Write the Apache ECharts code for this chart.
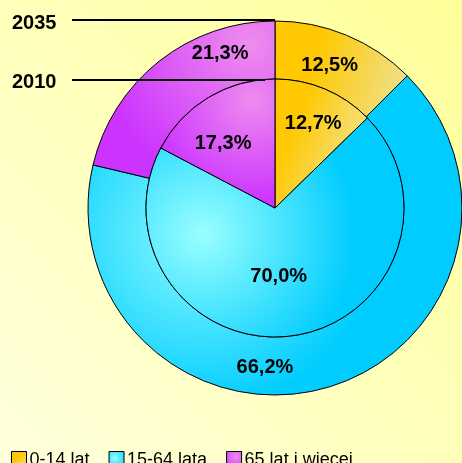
<!DOCTYPE html>
<html>
<head>
<meta charset="utf-8">
<script src="https://cdn.jsdelivr.net/npm/echarts@6/dist/echarts.min.js"></script>
<style>
  html, body { margin: 0; padding: 0; }
  #chart {
    width: 462px; height: 463px;
    background: linear-gradient(to top right, #FFFFDD, #FFFF99);
  }
</style>
</head>
<body>
<div id="chart"></div>
<script>
// dane
const categories = ["0-14 lat", "15-64 lata", "65 lat i wiecej"];
const values2010 = [12.7, 70.0, 17.3];
const values2035 = [12.5, 66.2, 21.3];
const yearLabels = ["2035", "2010"];

// przesunięcia etykiet (px) względem pozycji 'inside'
const innerOffsets = [[12, -22], [-6, 2], [-17, -7]];
const outerOffsets = [[-7, 6], [-54, 5], [45, -28]];

const FONT = 'Arial, "Liberation Sans", sans-serif';
const cx = 275, cy = 208, rIn = 129, rOut = 187;

function lin(c1, c2, x2, y2) {
  return new echarts.graphic.LinearGradient(0, 0, x2, y2, [
    { offset: 0, color: c1 }, { offset: 0.35, color: c1 }, { offset: 1, color: c2 },
  ]);
}
function rad(x, y, r, c1, c2) {
  return new echarts.graphic.RadialGradient(x, y, r, [
    { offset: 0, color: c1 }, { offset: 1, color: c2 },
  ]);
}

const innerColors = [
  lin("#FFC800", "#F5E07A", 1, 0.3),
  rad(0.22, 0.53, 0.7, "#99FFFF", "#00CCFF"),
  rad(0.8, 0.16, 0.9, "#EE8CEE", "#CC33FF"),
];
const outerColors = [
  lin("#FFC800", "#F0DF85", 1, 0.4),
  rad(0.3, 0.5, 0.55, "#8CFBFF", "#00CCFF"),
  rad(0.86, 0.15, 0.95, "#EE8CEE", "#CC33FF"),
];
const legendColors = [
  lin("#FFC800", "#F5E07A", 1, 1),
  rad(0.4, 0.4, 0.8, "#99FFFF", "#00CCFF"),
  rad(0.6, 0.3, 0.9, "#EE8CEE", "#CC33FF"),
];

const fmt = p => p.value.toFixed(1).replace(".", ",") + "%";

function buildData(values, colors, offsets) {
  return categories.map((name, i) => ({
    name,
    value: values[i],
    itemStyle: { color: colors[i] },
    label: { offset: offsets[i] },
  }));
}

const commonSeries = {
  type: "pie",
  center: [cx, cy],
  startAngle: 90,
  clockwise: true,
  avoidLabelOverlap: false,
  silent: true,
  itemStyle: { borderColor: "#000", borderWidth: 1 },
  label: {
    show: true, position: "inside", formatter: fmt,
    color: "#000", fontFamily: FONT, fontWeight: "bold", fontSize: 20,
  },
  labelLine: { show: false },
  emphasis: { disabled: true },
};

const chart = echarts.init(document.getElementById("chart"));
chart.setOption({
  animation: false,
  legend: {
    left: 6, top: 446,
    itemWidth: 15, itemHeight: 17, itemGap: 19,
    textStyle: { fontFamily: FONT, fontSize: 18, color: "#000", padding: [0, 0, 0, -2] },
    data: categories.map((name, i) => ({
      name,
      icon: "rect",
      itemStyle: { color: legendColors[i], borderColor: "#000", borderWidth: 1 },
    })),
  },
  series: [
    { ...commonSeries, name: "2035", radius: [rIn, rOut], data: buildData(values2035, outerColors, outerOffsets) },
    { ...commonSeries, name: "2010", radius: [0, rIn], data: buildData(values2010, innerColors, innerOffsets) },
  ],
  graphic: [
    { type: "text", left: 12, top: 13, style: { text: yearLabels[0], font: "bold 20px " + FONT, fill: "#000" } },
    { type: "text", left: 12, top: 72, style: { text: yearLabels[1], font: "bold 20px " + FONT, fill: "#000" } },
    { type: "line", z: 100, shape: { x1: 72, y1: 20, x2: cx, y2: 20 }, style: { stroke: "#000", lineWidth: 2 } },
    { type: "line", z: 100, shape: { x1: 72, y1: 80, x2: 265, y2: 80 }, style: { stroke: "#000", lineWidth: 2 } },
  ],
});
</script>
</body>
</html>
